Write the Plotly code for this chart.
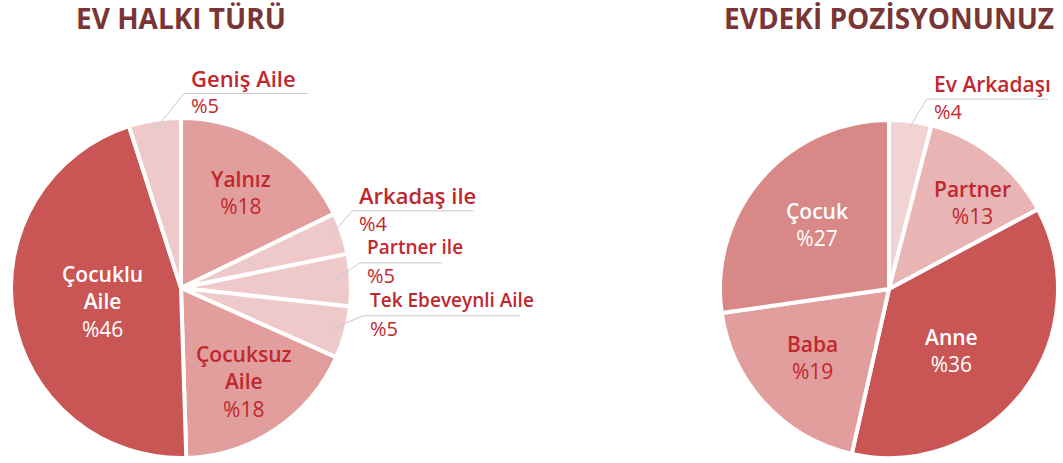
import math
import plotly.graph_objects as go

# ---------------- data ----------------
left_title = "EV HALKI TÜRÜ"
left_labels = ["Yalnız", "Arkadaş ile", "Partner ile", "Tek Ebeveynli Aile",
               "Çocuksuz Aile", "Çocuklu Aile", "Geniş Aile"]
left_values = [18, 4, 5, 5, 18, 46, 5]

right_title = "EVDEKİ POZİSYONUNUZ"
right_labels = ["Ev Arkadaşı", "Partner", "Anne", "Baba", "Çocuk"]
right_values = [4, 13, 36, 19, 27]

# ---------------- style ----------------
W, H = 1063, 463
FONT = "Open Sans"
RED_TXT = "#c0282d"
TITLE_COL = "#7a3636"
LINE_COL = "#c3cad6"

left_colors = ["#e29d9d", "#efc9c9", "#efc9c9", "#efc9c9", "#e29d9d", "#c95555", "#efc9c9"]
right_colors = ["#f2d3d3", "#e8b4b4", "#c95555", "#e29d9d", "#d98888"]

display = {"Çocuklu Aile": "Çocuklu<br>Aile", "Çocuksuz Aile": "Çocuksuz<br>Aile"}
white_text = {"Çocuklu Aile", "Anne", "Çocuk"}
# inside label placement: (radius fraction, angle tweak in degrees)
inside_pos = {"Yalnız": (0.66, 0), "Çocuksuz Aile": (0.66, 0), "Çocuklu Aile": (0.47, 0),
              "Partner": (0.71, 6), "Anne": (0.52, 7), "Baba": (0.61, 1), "Çocuk": (0.57, 1)}
# outside label leader: start radius fraction, elbow offset (px), underline length (px), font size
leader = {"Geniş Aile": (0.95, 28, -35, 124, 22),
          "Arkadaş ile": (0.92, 23, -27, 121, 22),
          "Partner ile": (0.90, 26, -18, 82, 19),
          "Tek Ebeveynli Aile": (0.92, 31, -13, 157, 19),
          "Ev Arkadaşı": (0.96, 17, -29, 121, 21)}

pies = [
    dict(title=left_title, labels=left_labels, values=left_values, colors=left_colors,
         cx=181, cy=288, R=170),
    dict(title=right_title, labels=right_labels, values=right_values, colors=right_colors,
         cx=889, cy=289, R=169),
]


def px(x):
    return x / W


def py(y):
    return 1 - y / H


fig = go.Figure()
annotations = []
shapes = []

for p in pies:
    cx, cy, R = p["cx"], p["cy"], p["R"]
    fig.add_trace(go.Pie(
        labels=p["labels"], values=p["values"], sort=False, direction="clockwise",
        rotation=0, textinfo="none", hoverinfo="label+percent",
        marker=dict(colors=p["colors"], line=dict(color="white", width=4)),
        domain=dict(x=[px(cx - R), px(cx + R)], y=[py(cy + R), py(cy - R)]),
        showlegend=False,
    ))
    annotations.append(dict(
        text="<b>%s</b>" % p["title"], x=px(cx), y=py(18), xref="paper", yref="paper",
        showarrow=False, xanchor="center", yanchor="middle", borderpad=0,
        font=dict(family=FONT, size=28, color=TITLE_COL)))

    total = sum(p["values"])
    cum = 0
    for lab, v in zip(p["labels"], p["values"]):
        mid = (cum + v / 2) / total * 2 * math.pi
        cum += v
        if lab in leader:
            rf, dx, dy, L, fs = leader[lab]
            sx = cx + rf * R * math.sin(mid)
            sy = cy - rf * R * math.cos(mid)
            ex, ey = sx + dx, sy + dy
            shapes.append(dict(
                type="path", xref="paper", yref="paper",
                path="M %f,%f L %f,%f L %f,%f" % (px(sx), py(sy), px(ex), py(ey),
                                                   px(ex + L), py(ey)),
                line=dict(color=LINE_COL, width=1)))
            annotations.append(dict(
                text="<span style='font-weight:600'>%s</span>" % lab,
                x=px(ex + 6), y=py(ey - 15.5), xref="paper", yref="paper",
                showarrow=False, xanchor="left", yanchor="middle", borderpad=0,
                font=dict(family=FONT, size=fs, color=RED_TXT)))
            annotations.append(dict(
                text="%%%d" % v, x=px(ex + 6), y=py(ey + 12.5), xref="paper", yref="paper",
                showarrow=False, xanchor="left", yanchor="middle", borderpad=0,
                font=dict(family=FONT, size=20, color=RED_TXT)))
        else:
            rf, dth = inside_pos.get(lab, (0.6, 0))
            a = mid + math.radians(dth)
            x = cx + rf * R * math.sin(a)
            y = cy - rf * R * math.cos(a)
            col = "white" if lab in white_text else RED_TXT
            txt = ("<span style='font-weight:600'>%s</span><br>%%%d"
                   % (display.get(lab, lab), v))
            annotations.append(dict(
                text=txt, x=px(x), y=py(y), xref="paper", yref="paper",
                showarrow=False, xanchor="center", yanchor="middle", align="center",
                borderpad=0, font=dict(family=FONT, size=21, color=col)))

fig.update_layout(
    width=W, height=H, margin=dict(l=0, r=0, t=0, b=0),
    paper_bgcolor="white", plot_bgcolor="white",
    annotations=annotations, shapes=shapes,
    font=dict(family=FONT),
)

fig.write_html("out.html", config={"displayModeBar": False},
               post_script="document.body.style.margin='0px';"
                           "document.body.style.overflow='hidden';")
